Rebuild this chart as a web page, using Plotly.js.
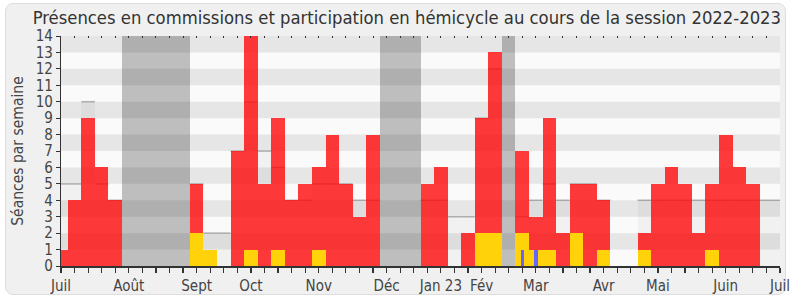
<!DOCTYPE html>
<html>
<head>
<meta charset="utf-8">
<script src="https://cdn.plot.ly/plotly-3.0.1.min.js"></script>
<style>
  html, body { margin: 0; padding: 0; background: #ffffff; }
  #frame { position: absolute; left: 5px; top: 3px; width: 779px; height: 290px;
           background: #f0f0f0; border: 1px solid #dedede; border-radius: 8px; }
  #chart { position: absolute; left: 0; top: 0; width: 790px; height: 300px; }
</style>
</head>
<body>
<div id="frame"></div>
<div id="chart"></div>
<script>
// Week index 0..53 of the session (July 2022 -> July 2023)
const weeks = Array.from({length: 54}, (_, i) => i);

// Total presences (commissions + hemicycle) per week
const presences = [1,4,9,6,4, 0,0,0,0,0, 5,1,0,7,14,5,9,4,5,6,8,5,3,8, 0,0,0,
                   5,6,0,2,9,13, 0, 7,3,9,2,5,5,4,0,0,2,5,6,5,2,5,8,6,5,0,0];
// Participation in hemicycle (yellow)
const hemicycle = [0,0,0,0,0, 0,0,0,0,0, 2,1,0,0,1,0,1,0,0,1,0,0,0,0, 0,0,0,
                   0,0,0,0,2,2, 0, 2,1,1,0,2,0,1,0,0,1,0,0,0,0,1,0,0,0,0,0];
// Questions (blue)
const questions = [0,0,0,0,0, 0,0,0,0,0, 0,0,0,0,0,0,0,0,0,0,0,0,0,0, 0,0,0,
                   0,0,0,0,0,0, 0, 1,1,0,0,0,0,0,0,0,0,0,0,0,0,0,0,0,0,0,0];
// Median deputy activity (grey)
const mediane = [5,5,10,5,4, 0,0,0,0,0, 5,2,2,7,10,7,6,4,4,5,5,5,4,4, 0,0,0,
                 4,4,3,3,9,12, 0, 3,4,5,4,5,5,4,0,0,4,4,4,4,4,4,4,4,4,4,4];
// Parliamentary recess weeks
const vacances = [0,0,0,0,0, 14,14,14,14,14, 0,0,0,0,0,0,0,0,0,0,0,0,0,0, 14,14,14,
                  0,0,0,0,0,0, 14, 0,0,0,0,0,0,0,0,0,0,0,0,0,0,0,0,0,0,0,0];

const tickPos  = [0, 5, 10, 14, 19, 24, 28, 31, 35, 40, 44, 49, 53];
const tickLbl  = ['Juil','Août','Sept','Oct','Nov','Déc','Jan 23','Fév','Mar','Avr','Mai','Juin','Juil'];
const yMax = 14;

const FONT = '"DejaVu Sans Condensed", "Liberation Sans Narrow", "DejaVu Sans", sans-serif';

const allTickText = weeks.map(w => { const k = tickPos.indexOf(w); return k >= 0 ? tickLbl[k] : ''; });

const ones = weeks.map(() => 1);
const traces = [
  {type: 'bar', x: weeks, y: mediane, width: ones, marker: {color: 'rgba(0,0,0,0.035)', line: {width: 0}}, hoverinfo: 'skip'},
  {type: 'bar', x: weeks, y: vacances, width: ones, marker: {color: 'rgba(0,0,0,0.24)', line: {width: 0}}, hoverinfo: 'skip'},
  {type: 'bar', x: weeks, y: presences, width: ones, marker: {color: 'rgba(255,10,10,0.8)', line: {width: 0}}, hoverinfo: 'skip'},
  {type: 'bar', x: weeks, y: hemicycle, width: ones, marker: {color: '#ffd20a', line: {width: 0}}, hoverinfo: 'skip'},
  {type: 'bar', x: weeks, y: questions, width: weeks.map(() => 0.25), marker: {color: '#6666ff', line: {width: 0}}, hoverinfo: 'skip'},
  {type: 'scatter', mode: 'markers', x: [0], y: [0], xaxis: 'x2', marker: {opacity: 0, size: 1}, hoverinfo: 'skip'}
];

// horizontal stripes
const shapes = [];
for (let v = 1; v < yMax; v += 2) {
  shapes.push({type: 'rect', xref: 'paper', yref: 'y', x0: 0, x1: 1, y0: v, y1: v + 1,
               fillcolor: '#e6e6e6', line: {width: 0}, layer: 'below'});
}
// median top lines, beneath the bars
weeks.forEach((w, i) => {
  if (mediane[i] > 0) {
    shapes.push({type: 'line', xref: 'x', yref: 'y', x0: w - 0.5, x1: w + 0.5, y0: mediane[i], y1: mediane[i],
                 line: {color: '#aeaeae', width: 1.5}, layer: 'below'});
  }
});

const layout = {
  width: 790, height: 300,
  margin: {l: 61, r: 10, t: 36, b: 34, pad: 0},
  paper_bgcolor: 'rgba(0,0,0,0)',
  plot_bgcolor: '#fafafa',
  showlegend: false,
  barmode: 'overlay',
  bargap: 0,
  font: {family: FONT, color: '#333'},
  title: {text: 'Présences en commissions et participation en hémicycle au cours de la session 2022-2023',
          font: {family: FONT, size: 18.3, color: '#333'}, xref: 'container', x: 0.515, xanchor: 'center',
          yref: 'container', y: 0.94, yanchor: 'middle'},
  xaxis: {range: [0, 53], tickvals: weeks, ticktext: allTickText, ticks: 'outside', ticklen: 5,
          tickcolor: '#333', tickwidth: 1.2, showline: true, linecolor: '#333', linewidth: 1.5,
          showgrid: false, zeroline: false, tickfont: {size: 15, color: '#444'}, fixedrange: true,
          ticklabeloverflow: 'allow'},
  xaxis2: {overlaying: 'x', side: 'top', range: [0, 53], tickvals: weeks, ticks: 'inside', ticklen: 2,
           tickcolor: '#333', showticklabels: false, showline: false, showgrid: false, zeroline: false},
  yaxis: {range: [0, yMax], dtick: 1, tick0: 0, ticks: 'outside', ticklen: 4, tickcolor: '#333',
          showline: true, linecolor: '#333', linewidth: 1.2, showgrid: false, zeroline: false,
          tickfont: {size: 15, color: '#444'},
          title: {text: 'Séances par semaine', font: {size: 15.5, color: '#444'}, standoff: 8}},
  shapes: shapes
};

Plotly.newPlot('chart', traces, layout, {staticPlot: true, displayModeBar: false});
</script>
</body>
</html>
